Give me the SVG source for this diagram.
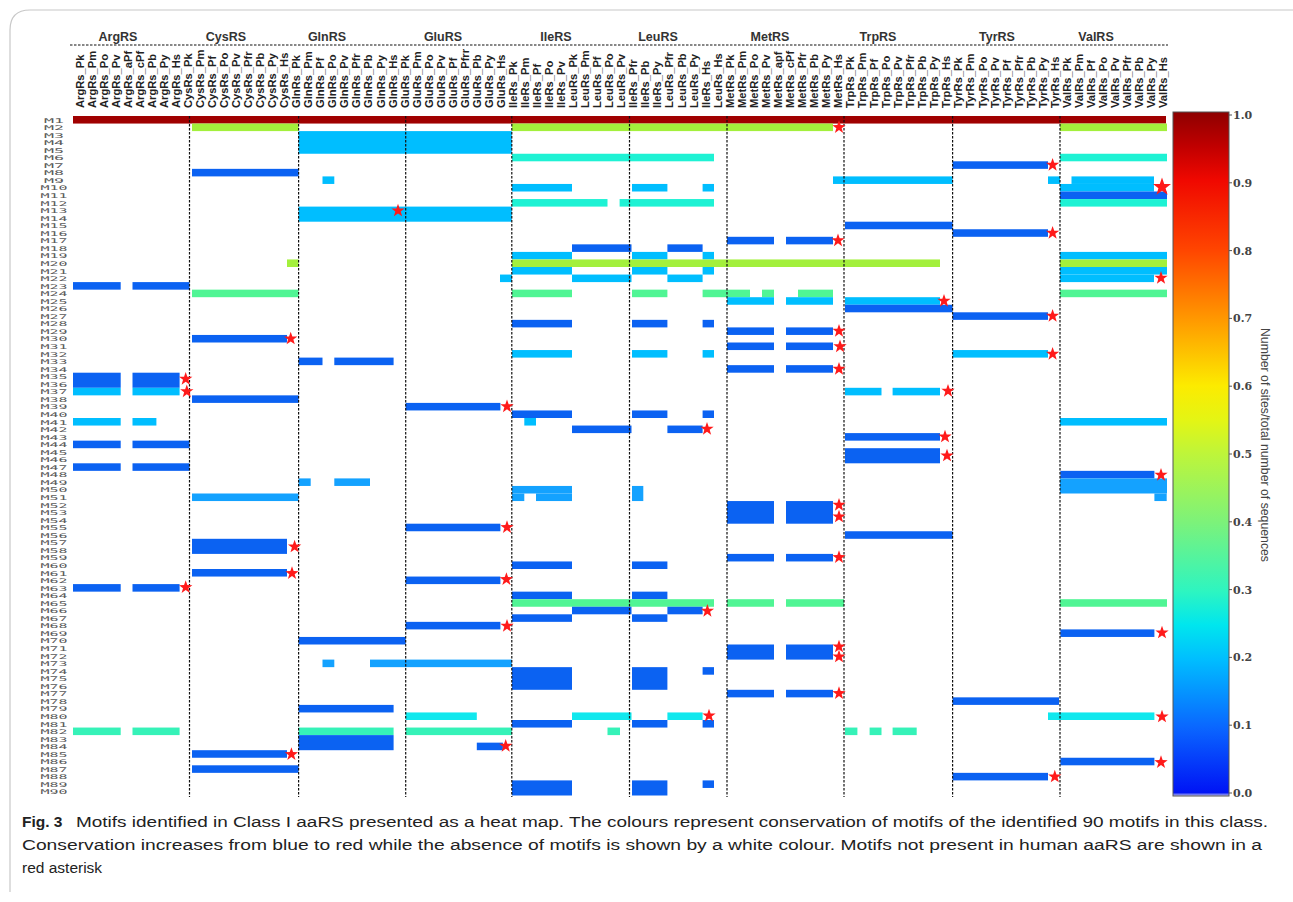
<svg xmlns="http://www.w3.org/2000/svg" xmlns:xlink="http://www.w3.org/1999/xlink" width="1293" height="902" viewBox="0 0 1293 902">
<style>
.gl{font-family:"Liberation Sans",Arial,sans-serif;font-weight:bold;font-size:12.5px;fill:#333;text-anchor:middle}
.cl{font-family:"Liberation Sans",Arial,sans-serif;font-weight:bold;font-size:11.2px;fill:#222}
.rl{font-family:"DejaVu Sans Mono",monospace;font-size:6.4px;fill:#5a5a5a;text-anchor:middle}
.tk{font-family:"DejaVu Serif",serif;font-weight:bold;font-size:11px;fill:#444}
.cap{font-family:"Liberation Sans",Arial,sans-serif;font-size:15.5px;fill:#222}
.dv{stroke:#111;stroke-width:1.2;stroke-dasharray:2.5 1.5}
.dr{fill:#A00000}.yg{fill:#A3F03C}.cy{fill:#00BEFF}.cb{fill:#14A2FF}.tq{fill:#1EF2D4}.tc{fill:#10E8EE}.mg{fill:#50F594}.ag{fill:#36F2B8}.bl{fill:#0B62F2}
.st{fill:#FF1A1A}
</style>
<defs>
<path id="st" d="M0,-7 L1.65,-2.27 L6.66,-2.16 L2.66,0.87 L4.11,5.66 L0,2.8 L-4.11,5.66 L-2.66,0.87 L-6.66,-2.16 L-1.65,-2.27 Z"/>
<linearGradient id="cmap" x1="0" y1="0" x2="0" y2="1">
<stop offset="0" stop-color="#8E0000"/>
<stop offset="0.05" stop-color="#C00000"/>
<stop offset="0.1" stop-color="#F00800"/>
<stop offset="0.2" stop-color="#FF4400"/>
<stop offset="0.3" stop-color="#FF9600"/>
<stop offset="0.4" stop-color="#FCEB00"/>
<stop offset="0.45" stop-color="#E4F514"/>
<stop offset="0.5" stop-color="#BEF53A"/>
<stop offset="0.6" stop-color="#7CF27A"/>
<stop offset="0.7" stop-color="#2EF5C0"/>
<stop offset="0.75" stop-color="#00E6EE"/>
<stop offset="0.8" stop-color="#00BEFF"/>
<stop offset="0.9" stop-color="#0A66FF"/>
<stop offset="0.995" stop-color="#0014F5"/>
<stop offset="1" stop-color="#C8C8F0"/>
</linearGradient>
</defs>
<rect width="1293" height="902" fill="#fff"/>
<path d="M10,892 V30 Q10,10 30,10 H1293" fill="none" stroke="#c8c8c8" stroke-width="1.2"/>

<g id="header">
<line x1="70" y1="45" x2="1168" y2="45" class="dv"/>
<text class="gl" x="118" y="41">ArgRS</text>
<text class="gl" x="226" y="41">CysRS</text>
<text class="gl" x="327" y="41">GlnRS</text>
<text class="gl" x="443" y="41">GluRS</text>
<text class="gl" x="556" y="41">IleRS</text>
<text class="gl" x="658" y="41">LeuRS</text>
<text class="gl" x="770" y="41">MetRS</text>
<text class="gl" x="878" y="41">TrpRS</text>
<text class="gl" x="997" y="41">TyrRS</text>
<text class="gl" x="1096" y="41">ValRS</text>
</g>

<g id="column-labels">
<text class="cl" transform="translate(83.5,108) rotate(-90)">ArgRs_Pk</text>
<text class="cl" transform="translate(95.54,108) rotate(-90)">ArgRs_Pm</text>
<text class="cl" transform="translate(107.58,108) rotate(-90)">ArgRs_Po</text>
<text class="cl" transform="translate(119.62,108) rotate(-90)">ArgRs_Pv</text>
<text class="cl" transform="translate(131.66,108) rotate(-90)">ArgRs_aPf</text>
<text class="cl" transform="translate(143.7,108) rotate(-90)">ArgRs_cPf</text>
<text class="cl" transform="translate(155.74,108) rotate(-90)">ArgRs_Pb</text>
<text class="cl" transform="translate(167.78,108) rotate(-90)">ArgRs_Py</text>
<text class="cl" transform="translate(179.82,108) rotate(-90)">ArgRs_Hs</text>
<text class="cl" transform="translate(191.86,108) rotate(-90)">CysRs_Pk</text>
<text class="cl" transform="translate(203.9,108) rotate(-90)">CysRs_Pm</text>
<text class="cl" transform="translate(215.94,108) rotate(-90)">CysRs_Pf</text>
<text class="cl" transform="translate(227.98,108) rotate(-90)">CysRs_Po</text>
<text class="cl" transform="translate(240.02,108) rotate(-90)">CysRs_Pv</text>
<text class="cl" transform="translate(252.06,108) rotate(-90)">CysRs_Pfr</text>
<text class="cl" transform="translate(264.1,108) rotate(-90)">CysRs_Pb</text>
<text class="cl" transform="translate(276.14,108) rotate(-90)">CysRs_Py</text>
<text class="cl" transform="translate(288.18,108) rotate(-90)">CysRs_Hs</text>
<text class="cl" transform="translate(300.22,108) rotate(-90)">GlnRs_Pk</text>
<text class="cl" transform="translate(312.26,108) rotate(-90)">GlnRs_Pm</text>
<text class="cl" transform="translate(324.3,108) rotate(-90)">GlnRs_Pf</text>
<text class="cl" transform="translate(336.34,108) rotate(-90)">GlnRs_Po</text>
<text class="cl" transform="translate(348.38,108) rotate(-90)">GlnRs_Pv</text>
<text class="cl" transform="translate(360.42,108) rotate(-90)">GlnRs_Pfr</text>
<text class="cl" transform="translate(372.46,108) rotate(-90)">GlnRs_Pb</text>
<text class="cl" transform="translate(384.5,108) rotate(-90)">GlnRs_Py</text>
<text class="cl" transform="translate(396.54,108) rotate(-90)">GlnRs_Hs</text>
<text class="cl" transform="translate(408.58,108) rotate(-90)">GluRs_Pk</text>
<text class="cl" transform="translate(420.62,108) rotate(-90)">GluRs_Pm</text>
<text class="cl" transform="translate(432.66,108) rotate(-90)">GluRs_Po</text>
<text class="cl" transform="translate(444.7,108) rotate(-90)">GluRs_Pv</text>
<text class="cl" transform="translate(456.74,108) rotate(-90)">GluRs_Pf</text>
<text class="cl" transform="translate(468.78,108) rotate(-90)">GluRs_Pfrr</text>
<text class="cl" transform="translate(480.82,108) rotate(-90)">GluRs_Pb</text>
<text class="cl" transform="translate(492.86,108) rotate(-90)">GluRs_Py</text>
<text class="cl" transform="translate(504.9,108) rotate(-90)">GluRs_Hs</text>
<text class="cl" transform="translate(516.94,108) rotate(-90)">IleRs_Pk</text>
<text class="cl" transform="translate(528.98,108) rotate(-90)">IleRs_Pm</text>
<text class="cl" transform="translate(541.02,108) rotate(-90)">IleRs_Pf</text>
<text class="cl" transform="translate(553.06,108) rotate(-90)">IleRs_Po</text>
<text class="cl" transform="translate(565.1,108) rotate(-90)">IleRs_Pv</text>
<text class="cl" transform="translate(577.14,108) rotate(-90)">LeuRs_Pk</text>
<text class="cl" transform="translate(589.18,108) rotate(-90)">LeuRs_Pm</text>
<text class="cl" transform="translate(601.22,108) rotate(-90)">LeuRs_Pf</text>
<text class="cl" transform="translate(613.26,108) rotate(-90)">LeuRs_Po</text>
<text class="cl" transform="translate(625.3,108) rotate(-90)">LeuRs_Pv</text>
<text class="cl" transform="translate(637.34,108) rotate(-90)">IleRs_Pfr</text>
<text class="cl" transform="translate(649.38,108) rotate(-90)">IleRs_Pb</text>
<text class="cl" transform="translate(661.42,108) rotate(-90)">IleRs_Py</text>
<text class="cl" transform="translate(673.46,108) rotate(-90)">LeuRs_Pfr</text>
<text class="cl" transform="translate(685.5,108) rotate(-90)">LeuRs_Pb</text>
<text class="cl" transform="translate(697.54,108) rotate(-90)">LeuRs_Py</text>
<text class="cl" transform="translate(709.58,108) rotate(-90)">IleRs_Hs</text>
<text class="cl" transform="translate(721.62,108) rotate(-90)">LeuRs_Hs</text>
<text class="cl" transform="translate(733.66,108) rotate(-90)">MetRs_Pk</text>
<text class="cl" transform="translate(745.7,108) rotate(-90)">MetRs_Pm</text>
<text class="cl" transform="translate(757.74,108) rotate(-90)">MetRs_Po</text>
<text class="cl" transform="translate(769.78,108) rotate(-90)">MetRs_Pv</text>
<text class="cl" transform="translate(781.82,108) rotate(-90)">MetRs_apf</text>
<text class="cl" transform="translate(793.86,108) rotate(-90)">MetRs_cPf</text>
<text class="cl" transform="translate(805.9,108) rotate(-90)">MetRs_Pfr</text>
<text class="cl" transform="translate(817.94,108) rotate(-90)">MetRs_Pb</text>
<text class="cl" transform="translate(829.98,108) rotate(-90)">MetRs_Py</text>
<text class="cl" transform="translate(842.02,108) rotate(-90)">MetRs_Hs</text>
<text class="cl" transform="translate(854.06,108) rotate(-90)">TrpRs_Pk</text>
<text class="cl" transform="translate(866.1,108) rotate(-90)">TrpRs_Pm</text>
<text class="cl" transform="translate(878.14,108) rotate(-90)">TrpRs_Pf</text>
<text class="cl" transform="translate(890.18,108) rotate(-90)">TrpRs_Po</text>
<text class="cl" transform="translate(902.22,108) rotate(-90)">TrpRs_Pv</text>
<text class="cl" transform="translate(914.26,108) rotate(-90)">TrpRs_Pfr</text>
<text class="cl" transform="translate(926.3,108) rotate(-90)">TrpRs_Pb</text>
<text class="cl" transform="translate(938.34,108) rotate(-90)">TrpRs_Py</text>
<text class="cl" transform="translate(950.38,108) rotate(-90)">TrpRs_Hs</text>
<text class="cl" transform="translate(962.42,108) rotate(-90)">TyrRs_Pk</text>
<text class="cl" transform="translate(974.46,108) rotate(-90)">TyrRs_Pm</text>
<text class="cl" transform="translate(986.5,108) rotate(-90)">TyrRs_Po</text>
<text class="cl" transform="translate(998.54,108) rotate(-90)">TyrRs_Pv</text>
<text class="cl" transform="translate(1010.58,108) rotate(-90)">TyrRs_Pf</text>
<text class="cl" transform="translate(1022.62,108) rotate(-90)">TyrRs_Pfr</text>
<text class="cl" transform="translate(1034.66,108) rotate(-90)">TyrRs_Pb</text>
<text class="cl" transform="translate(1046.7,108) rotate(-90)">TyrRs_Py</text>
<text class="cl" transform="translate(1058.74,108) rotate(-90)">TyrRs_Hs</text>
<text class="cl" transform="translate(1070.78,108) rotate(-90)">ValRs_Pk</text>
<text class="cl" transform="translate(1082.82,108) rotate(-90)">ValRs_Pm</text>
<text class="cl" transform="translate(1094.86,108) rotate(-90)">ValRs_Pf</text>
<text class="cl" transform="translate(1106.9,108) rotate(-90)">ValRs_Po</text>
<text class="cl" transform="translate(1118.94,108) rotate(-90)">ValRs_Pv</text>
<text class="cl" transform="translate(1130.98,108) rotate(-90)">ValRs_Pfr</text>
<text class="cl" transform="translate(1143.02,108) rotate(-90)">ValRs_Pb</text>
<text class="cl" transform="translate(1155.06,108) rotate(-90)">ValRs_Py</text>
<text class="cl" transform="translate(1167.1,108) rotate(-90)">ValRs_Hs</text>
</g>

<g id="row-labels">
<text class="rl" x="54" y="122.5" textLength="20" lengthAdjust="spacingAndGlyphs">M1</text>
<text class="rl" x="54" y="130.05" textLength="20" lengthAdjust="spacingAndGlyphs">M2</text>
<text class="rl" x="54" y="137.6" textLength="20" lengthAdjust="spacingAndGlyphs">M3</text>
<text class="rl" x="54" y="145.15" textLength="20" lengthAdjust="spacingAndGlyphs">M4</text>
<text class="rl" x="54" y="152.7" textLength="20" lengthAdjust="spacingAndGlyphs">M5</text>
<text class="rl" x="54" y="160.25" textLength="20" lengthAdjust="spacingAndGlyphs">M6</text>
<text class="rl" x="54" y="167.8" textLength="20" lengthAdjust="spacingAndGlyphs">M7</text>
<text class="rl" x="54" y="175.35" textLength="20" lengthAdjust="spacingAndGlyphs">M8</text>
<text class="rl" x="54" y="182.9" textLength="20" lengthAdjust="spacingAndGlyphs">M9</text>
<text class="rl" x="54" y="190.45" textLength="27" lengthAdjust="spacingAndGlyphs">M10</text>
<text class="rl" x="54" y="198" textLength="27" lengthAdjust="spacingAndGlyphs">M11</text>
<text class="rl" x="54" y="205.55" textLength="27" lengthAdjust="spacingAndGlyphs">M12</text>
<text class="rl" x="54" y="213.1" textLength="27" lengthAdjust="spacingAndGlyphs">M13</text>
<text class="rl" x="54" y="220.65" textLength="27" lengthAdjust="spacingAndGlyphs">M14</text>
<text class="rl" x="54" y="228.2" textLength="27" lengthAdjust="spacingAndGlyphs">M15</text>
<text class="rl" x="54" y="235.75" textLength="27" lengthAdjust="spacingAndGlyphs">M16</text>
<text class="rl" x="54" y="243.3" textLength="27" lengthAdjust="spacingAndGlyphs">M17</text>
<text class="rl" x="54" y="250.85" textLength="27" lengthAdjust="spacingAndGlyphs">M18</text>
<text class="rl" x="54" y="258.4" textLength="27" lengthAdjust="spacingAndGlyphs">M19</text>
<text class="rl" x="54" y="265.95" textLength="27" lengthAdjust="spacingAndGlyphs">M20</text>
<text class="rl" x="54" y="273.5" textLength="27" lengthAdjust="spacingAndGlyphs">M21</text>
<text class="rl" x="54" y="281.05" textLength="27" lengthAdjust="spacingAndGlyphs">M22</text>
<text class="rl" x="54" y="288.6" textLength="27" lengthAdjust="spacingAndGlyphs">M23</text>
<text class="rl" x="54" y="296.15" textLength="27" lengthAdjust="spacingAndGlyphs">M24</text>
<text class="rl" x="54" y="303.7" textLength="27" lengthAdjust="spacingAndGlyphs">M25</text>
<text class="rl" x="54" y="311.25" textLength="27" lengthAdjust="spacingAndGlyphs">M26</text>
<text class="rl" x="54" y="318.8" textLength="27" lengthAdjust="spacingAndGlyphs">M27</text>
<text class="rl" x="54" y="326.35" textLength="27" lengthAdjust="spacingAndGlyphs">M28</text>
<text class="rl" x="54" y="333.9" textLength="27" lengthAdjust="spacingAndGlyphs">M29</text>
<text class="rl" x="54" y="341.45" textLength="27" lengthAdjust="spacingAndGlyphs">M30</text>
<text class="rl" x="54" y="349" textLength="27" lengthAdjust="spacingAndGlyphs">M31</text>
<text class="rl" x="54" y="356.55" textLength="27" lengthAdjust="spacingAndGlyphs">M32</text>
<text class="rl" x="54" y="364.1" textLength="27" lengthAdjust="spacingAndGlyphs">M33</text>
<text class="rl" x="54" y="371.65" textLength="27" lengthAdjust="spacingAndGlyphs">M34</text>
<text class="rl" x="54" y="379.2" textLength="27" lengthAdjust="spacingAndGlyphs">M35</text>
<text class="rl" x="54" y="386.75" textLength="27" lengthAdjust="spacingAndGlyphs">M36</text>
<text class="rl" x="54" y="394.3" textLength="27" lengthAdjust="spacingAndGlyphs">M37</text>
<text class="rl" x="54" y="401.85" textLength="27" lengthAdjust="spacingAndGlyphs">M38</text>
<text class="rl" x="54" y="409.4" textLength="27" lengthAdjust="spacingAndGlyphs">M39</text>
<text class="rl" x="54" y="416.95" textLength="27" lengthAdjust="spacingAndGlyphs">M40</text>
<text class="rl" x="54" y="424.5" textLength="27" lengthAdjust="spacingAndGlyphs">M41</text>
<text class="rl" x="54" y="432.05" textLength="27" lengthAdjust="spacingAndGlyphs">M42</text>
<text class="rl" x="54" y="439.6" textLength="27" lengthAdjust="spacingAndGlyphs">M43</text>
<text class="rl" x="54" y="447.15" textLength="27" lengthAdjust="spacingAndGlyphs">M44</text>
<text class="rl" x="54" y="454.7" textLength="27" lengthAdjust="spacingAndGlyphs">M45</text>
<text class="rl" x="54" y="462.25" textLength="27" lengthAdjust="spacingAndGlyphs">M46</text>
<text class="rl" x="54" y="469.8" textLength="27" lengthAdjust="spacingAndGlyphs">M47</text>
<text class="rl" x="54" y="477.35" textLength="27" lengthAdjust="spacingAndGlyphs">M48</text>
<text class="rl" x="54" y="484.9" textLength="27" lengthAdjust="spacingAndGlyphs">M49</text>
<text class="rl" x="54" y="492.45" textLength="27" lengthAdjust="spacingAndGlyphs">M50</text>
<text class="rl" x="54" y="500" textLength="27" lengthAdjust="spacingAndGlyphs">M51</text>
<text class="rl" x="54" y="507.55" textLength="27" lengthAdjust="spacingAndGlyphs">M52</text>
<text class="rl" x="54" y="515.1" textLength="27" lengthAdjust="spacingAndGlyphs">M53</text>
<text class="rl" x="54" y="522.65" textLength="27" lengthAdjust="spacingAndGlyphs">M54</text>
<text class="rl" x="54" y="530.2" textLength="27" lengthAdjust="spacingAndGlyphs">M55</text>
<text class="rl" x="54" y="537.75" textLength="27" lengthAdjust="spacingAndGlyphs">M56</text>
<text class="rl" x="54" y="545.3" textLength="27" lengthAdjust="spacingAndGlyphs">M57</text>
<text class="rl" x="54" y="552.85" textLength="27" lengthAdjust="spacingAndGlyphs">M58</text>
<text class="rl" x="54" y="560.4" textLength="27" lengthAdjust="spacingAndGlyphs">M59</text>
<text class="rl" x="54" y="567.95" textLength="27" lengthAdjust="spacingAndGlyphs">M60</text>
<text class="rl" x="54" y="575.5" textLength="27" lengthAdjust="spacingAndGlyphs">M61</text>
<text class="rl" x="54" y="583.05" textLength="27" lengthAdjust="spacingAndGlyphs">M62</text>
<text class="rl" x="54" y="590.6" textLength="27" lengthAdjust="spacingAndGlyphs">M63</text>
<text class="rl" x="54" y="598.15" textLength="27" lengthAdjust="spacingAndGlyphs">M64</text>
<text class="rl" x="54" y="605.7" textLength="27" lengthAdjust="spacingAndGlyphs">M65</text>
<text class="rl" x="54" y="613.25" textLength="27" lengthAdjust="spacingAndGlyphs">M66</text>
<text class="rl" x="54" y="620.8" textLength="27" lengthAdjust="spacingAndGlyphs">M67</text>
<text class="rl" x="54" y="628.35" textLength="27" lengthAdjust="spacingAndGlyphs">M68</text>
<text class="rl" x="54" y="635.9" textLength="27" lengthAdjust="spacingAndGlyphs">M69</text>
<text class="rl" x="54" y="643.45" textLength="27" lengthAdjust="spacingAndGlyphs">M70</text>
<text class="rl" x="54" y="651" textLength="27" lengthAdjust="spacingAndGlyphs">M71</text>
<text class="rl" x="54" y="658.55" textLength="27" lengthAdjust="spacingAndGlyphs">M72</text>
<text class="rl" x="54" y="666.1" textLength="27" lengthAdjust="spacingAndGlyphs">M73</text>
<text class="rl" x="54" y="673.65" textLength="27" lengthAdjust="spacingAndGlyphs">M74</text>
<text class="rl" x="54" y="681.2" textLength="27" lengthAdjust="spacingAndGlyphs">M75</text>
<text class="rl" x="54" y="688.75" textLength="27" lengthAdjust="spacingAndGlyphs">M76</text>
<text class="rl" x="54" y="696.3" textLength="27" lengthAdjust="spacingAndGlyphs">M77</text>
<text class="rl" x="54" y="703.85" textLength="27" lengthAdjust="spacingAndGlyphs">M78</text>
<text class="rl" x="54" y="711.4" textLength="27" lengthAdjust="spacingAndGlyphs">M79</text>
<text class="rl" x="54" y="718.95" textLength="27" lengthAdjust="spacingAndGlyphs">M80</text>
<text class="rl" x="54" y="726.5" textLength="27" lengthAdjust="spacingAndGlyphs">M81</text>
<text class="rl" x="54" y="734.05" textLength="27" lengthAdjust="spacingAndGlyphs">M82</text>
<text class="rl" x="54" y="741.6" textLength="27" lengthAdjust="spacingAndGlyphs">M83</text>
<text class="rl" x="54" y="749.15" textLength="27" lengthAdjust="spacingAndGlyphs">M84</text>
<text class="rl" x="54" y="756.7" textLength="27" lengthAdjust="spacingAndGlyphs">M85</text>
<text class="rl" x="54" y="764.25" textLength="27" lengthAdjust="spacingAndGlyphs">M86</text>
<text class="rl" x="54" y="771.8" textLength="27" lengthAdjust="spacingAndGlyphs">M87</text>
<text class="rl" x="54" y="779.35" textLength="27" lengthAdjust="spacingAndGlyphs">M88</text>
<text class="rl" x="54" y="786.9" textLength="27" lengthAdjust="spacingAndGlyphs">M89</text>
<text class="rl" x="54" y="794.45" textLength="27" lengthAdjust="spacingAndGlyphs">M90</text>
</g>

<g id="cells">
<rect class="dr" x="73" y="116" width="1093" height="7.55"/>
<rect class="yg" x="192" y="123.55" width="106.6" height="7.55"/>
<rect class="yg" x="512" y="123.55" width="321" height="7.55"/>
<rect class="yg" x="1060" y="123.55" width="107" height="7.55"/>
<rect class="cy" x="298.6" y="131.1" width="213.2" height="22.65"/>
<rect class="tq" x="512" y="153.75" width="202" height="7.55"/>
<rect class="tq" x="1060" y="153.75" width="107" height="7.55"/>
<rect class="bl" x="952.6" y="161.3" width="95.4" height="7.55"/>
<rect class="bl" x="192" y="168.85" width="106.6" height="7.55"/>
<rect class="cy" x="322.5" y="176.4" width="11.8" height="7.55"/>
<rect class="cy" x="833" y="176.4" width="119.6" height="7.55"/>
<rect class="cy" x="1048" y="176.4" width="12" height="7.55"/>
<rect class="cy" x="1071.5" y="176.4" width="82.5" height="7.55"/>
<rect class="cy" x="512" y="183.95" width="60" height="7.55"/>
<rect class="cy" x="632" y="183.95" width="35.4" height="7.55"/>
<rect class="cy" x="702.6" y="183.95" width="11.4" height="7.55"/>
<rect class="cy" x="1060" y="183.95" width="94" height="7.55"/>
<rect class="bl" x="1060" y="191.5" width="107" height="7.55"/>
<rect class="tq" x="512" y="199.05" width="95.5" height="7.55"/>
<rect class="tq" x="619.6" y="199.05" width="94.4" height="7.55"/>
<rect class="tq" x="1060" y="199.05" width="107" height="7.55"/>
<rect class="cy" x="298.6" y="206.6" width="213.2" height="15.1"/>
<rect class="bl" x="845" y="221.7" width="107.6" height="7.55"/>
<rect class="bl" x="952.6" y="229.25" width="95.4" height="7.55"/>
<rect class="bl" x="727" y="236.8" width="47" height="7.55"/>
<rect class="bl" x="786" y="236.8" width="47" height="7.55"/>
<rect class="bl" x="572" y="244.35" width="59.5" height="7.55"/>
<rect class="bl" x="667.4" y="244.35" width="35.2" height="7.55"/>
<rect class="cy" x="512" y="251.9" width="60" height="7.55"/>
<rect class="cy" x="632" y="251.9" width="35.4" height="7.55"/>
<rect class="cy" x="702.6" y="251.9" width="11.4" height="7.55"/>
<rect class="cy" x="1060" y="251.9" width="107" height="7.55"/>
<rect class="yg" x="287" y="259.45" width="11.6" height="7.55"/>
<rect class="yg" x="512" y="259.45" width="428" height="7.55"/>
<rect class="yg" x="1060" y="259.45" width="107" height="7.55"/>
<rect class="cy" x="512" y="267" width="60" height="7.55"/>
<rect class="cy" x="632" y="267" width="35.4" height="7.55"/>
<rect class="cy" x="702.6" y="267" width="11.4" height="7.55"/>
<rect class="cy" x="1060" y="267" width="107" height="7.55"/>
<rect class="cy" x="500" y="274.55" width="12" height="7.55"/>
<rect class="cy" x="572" y="274.55" width="59.5" height="7.55"/>
<rect class="cy" x="667.4" y="274.55" width="35.2" height="7.55"/>
<rect class="cy" x="1060" y="274.55" width="94" height="7.55"/>
<rect class="bl" x="73" y="282.1" width="47.7" height="7.55"/>
<rect class="bl" x="132.5" y="282.1" width="57" height="7.55"/>
<rect class="mg" x="192" y="289.65" width="106.6" height="7.55"/>
<rect class="mg" x="512" y="289.65" width="60" height="7.55"/>
<rect class="mg" x="632" y="289.65" width="35.4" height="7.55"/>
<rect class="mg" x="702.6" y="289.65" width="47.4" height="7.55"/>
<rect class="mg" x="762" y="289.65" width="12" height="7.55"/>
<rect class="mg" x="798" y="289.65" width="35" height="7.55"/>
<rect class="mg" x="1060" y="289.65" width="107" height="7.55"/>
<rect class="cy" x="727" y="297.2" width="47" height="7.55"/>
<rect class="cy" x="786" y="297.2" width="47" height="7.55"/>
<rect class="cy" x="845" y="297.2" width="95" height="7.55"/>
<rect class="bl" x="845" y="304.75" width="107.6" height="7.55"/>
<rect class="bl" x="952.6" y="312.3" width="95.4" height="7.55"/>
<rect class="bl" x="512" y="319.85" width="60" height="7.55"/>
<rect class="bl" x="632" y="319.85" width="35.4" height="7.55"/>
<rect class="bl" x="702.6" y="319.85" width="11.4" height="7.55"/>
<rect class="bl" x="727" y="327.4" width="47" height="7.55"/>
<rect class="bl" x="786" y="327.4" width="47" height="7.55"/>
<rect class="bl" x="192" y="334.95" width="95" height="7.55"/>
<rect class="bl" x="727" y="342.5" width="47" height="7.55"/>
<rect class="bl" x="786" y="342.5" width="47" height="7.55"/>
<rect class="cy" x="512" y="350.05" width="60" height="7.55"/>
<rect class="cy" x="632" y="350.05" width="35.4" height="7.55"/>
<rect class="cy" x="702.6" y="350.05" width="11.4" height="7.55"/>
<rect class="cy" x="952.6" y="350.05" width="95.4" height="7.55"/>
<rect class="bl" x="298.6" y="357.6" width="23.9" height="7.55"/>
<rect class="bl" x="334.3" y="357.6" width="59.3" height="7.55"/>
<rect class="bl" x="727" y="365.15" width="47" height="7.55"/>
<rect class="bl" x="786" y="365.15" width="47" height="7.55"/>
<rect class="bl" x="73" y="372.7" width="47.7" height="15.1"/>
<rect class="bl" x="132.5" y="372.7" width="47.1" height="15.1"/>
<rect class="cy" x="73" y="387.8" width="47.7" height="7.55"/>
<rect class="cy" x="132.5" y="387.8" width="47.1" height="7.55"/>
<rect class="cy" x="845" y="387.8" width="36.5" height="7.55"/>
<rect class="cy" x="892.6" y="387.8" width="47.4" height="7.55"/>
<rect class="bl" x="192" y="395.35" width="106.6" height="7.55"/>
<rect class="bl" x="405.7" y="402.9" width="94.7" height="7.55"/>
<rect class="bl" x="512" y="410.45" width="60" height="7.55"/>
<rect class="bl" x="632" y="410.45" width="35.4" height="7.55"/>
<rect class="bl" x="702.6" y="410.45" width="11.4" height="7.55"/>
<rect class="cy" x="73" y="418" width="47.7" height="7.55"/>
<rect class="cy" x="132.5" y="418" width="23.9" height="7.55"/>
<rect class="cy" x="524.3" y="418" width="11.7" height="7.55"/>
<rect class="cy" x="1060" y="418" width="107" height="7.55"/>
<rect class="bl" x="572" y="425.55" width="59.5" height="7.55"/>
<rect class="bl" x="667.4" y="425.55" width="35.2" height="7.55"/>
<rect class="bl" x="845" y="433.1" width="95" height="7.55"/>
<rect class="bl" x="73" y="440.65" width="47.7" height="7.55"/>
<rect class="bl" x="132.5" y="440.65" width="57" height="7.55"/>
<rect class="bl" x="845" y="448.2" width="95" height="15.1"/>
<rect class="bl" x="73" y="463.3" width="47.7" height="7.55"/>
<rect class="bl" x="132.5" y="463.3" width="57" height="7.55"/>
<rect class="bl" x="1060.4" y="470.85" width="94" height="7.55"/>
<rect class="cb" x="298.6" y="478.4" width="12.1" height="7.55"/>
<rect class="cb" x="334.3" y="478.4" width="35.7" height="7.55"/>
<rect class="cb" x="1060" y="478.4" width="107" height="15.1"/>
<rect class="cb" x="512" y="485.95" width="60" height="7.55"/>
<rect class="cb" x="632" y="485.95" width="11.3" height="15.1"/>
<rect class="cb" x="192" y="493.5" width="106.6" height="7.55"/>
<rect class="cb" x="512" y="493.5" width="12.3" height="7.55"/>
<rect class="cb" x="536" y="493.5" width="36" height="7.55"/>
<rect class="cb" x="1154.4" y="493.5" width="12.3" height="7.55"/>
<rect class="bl" x="727" y="501.05" width="47" height="22.65"/>
<rect class="bl" x="786" y="501.05" width="47" height="22.65"/>
<rect class="bl" x="405.7" y="523.7" width="94.7" height="7.55"/>
<rect class="bl" x="845" y="531.25" width="107.6" height="7.55"/>
<rect class="bl" x="192" y="538.8" width="95" height="15.1"/>
<rect class="bl" x="727" y="553.9" width="47" height="7.55"/>
<rect class="bl" x="786" y="553.9" width="47" height="7.55"/>
<rect class="bl" x="512" y="561.45" width="60" height="7.55"/>
<rect class="bl" x="632" y="561.45" width="35.4" height="7.55"/>
<rect class="bl" x="192" y="569" width="95" height="7.55"/>
<rect class="bl" x="405.7" y="576.55" width="94.7" height="7.55"/>
<rect class="bl" x="73" y="584.1" width="47.7" height="7.55"/>
<rect class="bl" x="132.5" y="584.1" width="47.1" height="7.55"/>
<rect class="bl" x="512" y="591.65" width="60" height="7.55"/>
<rect class="bl" x="632" y="591.65" width="35.4" height="7.55"/>
<rect class="mg" x="512" y="599.2" width="202" height="7.55"/>
<rect class="mg" x="727" y="599.2" width="47" height="7.55"/>
<rect class="mg" x="786" y="599.2" width="58" height="7.55"/>
<rect class="mg" x="1060" y="599.2" width="107" height="7.55"/>
<rect class="bl" x="572" y="606.75" width="59.5" height="7.55"/>
<rect class="bl" x="667.4" y="606.75" width="35.2" height="7.55"/>
<rect class="bl" x="512" y="614.3" width="60" height="7.55"/>
<rect class="bl" x="632" y="614.3" width="35.4" height="7.55"/>
<rect class="bl" x="405.7" y="621.85" width="94.7" height="7.55"/>
<rect class="bl" x="1060.4" y="629.4" width="94" height="7.55"/>
<rect class="bl" x="298.6" y="636.95" width="107.1" height="7.55"/>
<rect class="bl" x="727" y="644.5" width="47" height="15.1"/>
<rect class="bl" x="786" y="644.5" width="47" height="15.1"/>
<rect class="cb" x="322.5" y="659.6" width="11.8" height="7.55"/>
<rect class="cb" x="370" y="659.6" width="141.8" height="7.55"/>
<rect class="bl" x="512" y="667.15" width="60" height="22.65"/>
<rect class="bl" x="632" y="667.15" width="35.4" height="22.65"/>
<rect class="bl" x="702.6" y="667.15" width="11.4" height="7.55"/>
<rect class="bl" x="727" y="689.8" width="47" height="7.55"/>
<rect class="bl" x="786" y="689.8" width="47" height="7.55"/>
<rect class="bl" x="952.6" y="697.35" width="106.4" height="7.55"/>
<rect class="bl" x="298.6" y="704.9" width="95" height="7.55"/>
<rect class="tc" x="405.7" y="712.45" width="71.1" height="7.55"/>
<rect class="tc" x="572" y="712.45" width="59.5" height="7.55"/>
<rect class="tc" x="667.4" y="712.45" width="35.2" height="7.55"/>
<rect class="tc" x="1048" y="712.45" width="106.4" height="7.55"/>
<rect class="bl" x="512" y="720" width="60" height="7.55"/>
<rect class="bl" x="632" y="720" width="35.4" height="7.55"/>
<rect class="bl" x="702.6" y="720" width="11.4" height="7.55"/>
<rect class="ag" x="73" y="727.55" width="47.7" height="7.55"/>
<rect class="ag" x="132.5" y="727.55" width="47.1" height="7.55"/>
<rect class="ag" x="298.6" y="727.55" width="95" height="7.55"/>
<rect class="ag" x="405.7" y="727.55" width="106.1" height="7.55"/>
<rect class="ag" x="607.5" y="727.55" width="12.5" height="7.55"/>
<rect class="ag" x="845" y="727.55" width="12.4" height="7.55"/>
<rect class="ag" x="869.6" y="727.55" width="11.9" height="7.55"/>
<rect class="ag" x="892.6" y="727.55" width="24.1" height="7.55"/>
<rect class="bl" x="298.6" y="735.1" width="95" height="15.1"/>
<rect class="bl" x="476.8" y="742.65" width="26.1" height="7.55"/>
<rect class="bl" x="192" y="750.2" width="95" height="7.55"/>
<rect class="bl" x="1060.4" y="757.75" width="94" height="7.55"/>
<rect class="bl" x="192" y="765.3" width="106.6" height="7.55"/>
<rect class="bl" x="952.6" y="772.85" width="95.4" height="7.55"/>
<rect class="bl" x="512" y="780.4" width="60" height="15.1"/>
<rect class="bl" x="632" y="780.4" width="35.4" height="15.1"/>
<rect class="bl" x="702.6" y="780.4" width="11.4" height="7.55"/>
</g>

<g id="dividers">
<line class="dv" x1="189.5" y1="116" x2="189.5" y2="797"/>
<line class="dv" x1="298.6" y1="116" x2="298.6" y2="797"/>
<line class="dv" x1="405.7" y1="116" x2="405.7" y2="797"/>
<line class="dv" x1="511.8" y1="116" x2="511.8" y2="797"/>
<line class="dv" x1="629.5" y1="116" x2="629.5" y2="797"/>
<line class="dv" x1="727" y1="116" x2="727" y2="797"/>
<line class="dv" x1="844" y1="116" x2="844" y2="797"/>
<line class="dv" x1="952.6" y1="116" x2="952.6" y2="797"/>
<line class="dv" x1="1060" y1="116" x2="1060" y2="797"/>
</g>

<g id="stars" class="st">
<use href="#st" x="839" y="127.3"/>
<use href="#st" x="1052.6" y="165"/>
<use href="#st" transform="translate(1162,187) scale(1.35)"/>
<use href="#st" x="398" y="210.7"/>
<use href="#st" x="1052.6" y="233"/>
<use href="#st" x="838" y="240.5"/>
<use href="#st" x="1161" y="278"/>
<use href="#st" x="944" y="301"/>
<use href="#st" x="1052.6" y="316"/>
<use href="#st" x="839" y="331"/>
<use href="#st" x="290.7" y="338.7"/>
<use href="#st" x="840" y="346.5"/>
<use href="#st" x="1052.6" y="354"/>
<use href="#st" x="839" y="369"/>
<use href="#st" x="185.7" y="379"/>
<use href="#st" x="186.8" y="391.5"/>
<use href="#st" x="948" y="391"/>
<use href="#st" x="507" y="406.5"/>
<use href="#st" x="707" y="429"/>
<use href="#st" x="945" y="436.7"/>
<use href="#st" x="947" y="455.7"/>
<use href="#st" x="1161" y="475"/>
<use href="#st" x="839" y="505"/>
<use href="#st" x="839" y="516.7"/>
<use href="#st" x="507" y="527.3"/>
<use href="#st" x="294.6" y="546.7"/>
<use href="#st" x="839" y="557.3"/>
<use href="#st" x="292" y="573.3"/>
<use href="#st" x="506.4" y="579.3"/>
<use href="#st" x="185.7" y="587.3"/>
<use href="#st" x="707.4" y="611"/>
<use href="#st" x="507" y="626"/>
<use href="#st" x="1162" y="632.7"/>
<use href="#st" x="839" y="646.7"/>
<use href="#st" x="839" y="656.7"/>
<use href="#st" x="839" y="693.3"/>
<use href="#st" x="709" y="715.7"/>
<use href="#st" x="1162" y="716.7"/>
<use href="#st" x="505.7" y="746"/>
<use href="#st" x="291.4" y="754.3"/>
<use href="#st" x="1161" y="762.3"/>
<use href="#st" x="1054.8" y="776.7"/>
</g>

<g id="colorbar">
<rect x="1173" y="112" width="56" height="684" fill="url(#cmap)" stroke="#555" stroke-width="1"/>
<g stroke="#555" stroke-width="1">
<line x1="1229" y1="115" x2="1232" y2="115"/>
<line x1="1229" y1="182.8" x2="1232" y2="182.8"/>
<line x1="1229" y1="250.6" x2="1232" y2="250.6"/>
<line x1="1229" y1="318.4" x2="1232" y2="318.4"/>
<line x1="1229" y1="386.2" x2="1232" y2="386.2"/>
<line x1="1229" y1="454" x2="1232" y2="454"/>
<line x1="1229" y1="521.8" x2="1232" y2="521.8"/>
<line x1="1229" y1="589.6" x2="1232" y2="589.6"/>
<line x1="1229" y1="657.4" x2="1232" y2="657.4"/>
<line x1="1229" y1="725.2" x2="1232" y2="725.2"/>
<line x1="1229" y1="793" x2="1232" y2="793"/>
</g>
<text class="tk" x="1233" y="119">1.0</text>
<text class="tk" x="1233" y="186.8">0.9</text>
<text class="tk" x="1233" y="254.6">0.8</text>
<text class="tk" x="1233" y="322.4">0.7</text>
<text class="tk" x="1233" y="390.2">0.6</text>
<text class="tk" x="1233" y="458">0.5</text>
<text class="tk" x="1233" y="525.8">0.4</text>
<text class="tk" x="1233" y="593.6">0.3</text>
<text class="tk" x="1233" y="661.4">0.2</text>
<text class="tk" x="1233" y="729.2">0.1</text>
<text class="tk" x="1233" y="797">0.0</text>
<text transform="translate(1261,445) rotate(90)" font-family="'Liberation Sans',Arial,sans-serif" font-size="13" fill="#444" text-anchor="middle" textLength="234" lengthAdjust="spacingAndGlyphs">Number of sites/total number of sequences</text>
</g>

<g id="caption">
<text class="cap" x="22" y="827" font-weight="bold">Fig. 3</text>
<text class="cap" x="76" y="827" textLength="1192" lengthAdjust="spacingAndGlyphs">Motifs identified in Class I aaRS presented as a heat map. The colours represent conservation of motifs of the identified 90 motifs in this class.</text>
<text class="cap" x="22" y="850" textLength="1240" lengthAdjust="spacingAndGlyphs">Conservation increases from blue to red while the absence of motifs is shown by a white colour. Motifs not present in human aaRS are shown in a</text>
<text class="cap" x="22" y="873">red asterisk</text>
</g>
</svg>
